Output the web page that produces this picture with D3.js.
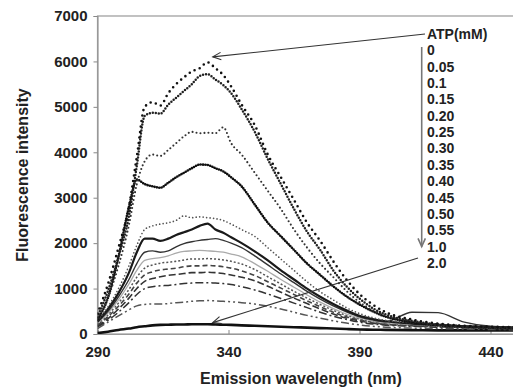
<!DOCTYPE html>
<html>
<head>
<meta charset="utf-8">
<script src="https://cdn.jsdelivr.net/npm/d3@7"></script>
<style>
    body { margin: 0; background: #fff; }
    svg { display: block; font-family: "Liberation Sans", Arial, sans-serif; }
    .axis text { font-weight: bold; fill: #222; }
</style>
</head>
<body>
<script>
// emission wavelengths (nm) sampled along every spectrum
const wavelengths = [290, 294, 298, 302, 305, 308, 311, 314, 317, 320, 323, 326, 329, 332, 335, 338, 341, 345,
    350, 355, 360, 365, 370, 375, 380, 385, 390, 395, 400, 410, 420, 430, 440, 450];

// fluorescence intensity, one array per ATP concentration
const atp0 = [450, 1100, 1900, 2800, 3900, 5000, 5100, 5030, 5300, 5500, 5650, 5780, 5850, 5980, 5850, 5700, 5450, 5050,
    4600, 3950, 3450, 2950, 2450, 2050, 1600, 1200, 880, 650, 480, 320, 230, 180, 160, 150];
const atp005 = [380, 950, 1700, 2600, 3700, 4800, 4870, 4850, 5050, 5200, 5350, 5500, 5680, 5720, 5600, 5480, 5300, 4950,
    4450, 3850, 3300, 2750, 2250, 1850, 1400, 1050, 780, 570, 430, 290, 210, 170, 150, 140];
const atp01 = [350, 800, 1500, 2400, 3300, 3800, 3950, 3920, 4050, 4200, 4350, 4450, 4420, 4430, 4420, 4550, 4200, 3950,
    3550, 3150, 2750, 2300, 1900, 1550, 1250, 950, 700, 520, 400, 280, 200, 160, 140, 130];
const atp015 = [320, 800, 1700, 2800, 3400, 3300, 3250, 3220, 3330, 3450, 3550, 3650, 3730, 3720, 3650, 3580, 3450, 3250,
    2850, 2450, 2150, 1850, 1550, 1300, 1050, 830, 650, 500, 380, 260, 190, 160, 140, 130];
const atp020 = [300, 600, 1000, 1500, 1950, 2300, 2380, 2420, 2450, 2500, 2600, 2560, 2580, 2560, 2540, 2500, 2420, 2300,
    2150, 1900, 1650, 1400, 1150, 930, 750, 580, 450, 360, 300, 250, 210, 180, 160, 150];
const atp025 = [280, 550, 900, 1350, 1800, 2100, 2100, 2050, 2100, 2180, 2240, 2300, 2380, 2430, 2300, 2230, 2130, 2000,
    1820, 1620, 1400, 1200, 1000, 820, 660, 520, 400, 330, 280, 230, 200, 170, 150, 140];
const atp030 = [260, 500, 820, 1200, 1550, 1800, 1830, 1800, 1830, 1920, 1990, 2030, 2060, 2080, 2100, 2060, 2000, 1900,
    1720, 1520, 1320, 1130, 940, 770, 620, 490, 380, 310, 270, 480, 470, 260, 170, 150];
const atp035 = [240, 460, 750, 1100, 1400, 1620, 1660, 1680, 1720, 1780, 1820, 1830, 1840, 1830, 1820, 1800, 1760, 1700,
    1550, 1380, 1200, 1030, 860, 700, 560, 440, 350, 290, 250, 210, 180, 155, 140, 130];
const atp040 = [220, 420, 680, 980, 1250, 1450, 1520, 1560, 1580, 1600, 1630, 1650, 1650, 1660, 1650, 1630, 1600, 1540,
    1420, 1260, 1100, 940, 790, 650, 520, 410, 330, 270, 230, 200, 170, 150, 135, 125];
const atp045 = [200, 380, 610, 880, 1120, 1300, 1370, 1410, 1430, 1450, 1480, 1500, 1500, 1510, 1500, 1480, 1450, 1390,
    1290, 1150, 1010, 870, 730, 600, 480, 380, 310, 255, 220, 190, 165, 145, 130, 120];
const atp050 = [180, 340, 550, 790, 1000, 1160, 1220, 1260, 1290, 1310, 1330, 1350, 1350, 1360, 1350, 1330, 1300, 1250,
    1170, 1050, 920, 790, 670, 550, 440, 350, 290, 240, 210, 180, 160, 140, 125, 115];
const atp055 = [160, 300, 480, 690, 870, 1000, 1040, 1060, 1070, 1090, 1110, 1120, 1130, 1130, 1120, 1110, 1090, 1040,
    970, 880, 780, 680, 580, 480, 390, 320, 260, 220, 195, 170, 150, 135, 120, 110];
const atp10 = [120, 260, 400, 530, 620, 650, 660, 660, 670, 690, 700, 720, 730, 735, 730, 720, 710, 690,
    660, 610, 550, 480, 410, 350, 290, 240, 200, 170, 150, 130, 120, 110, 100, 95];
const atp20 = [20, 50, 90, 120, 150, 170, 190, 200, 205, 210, 210, 215, 215, 215, 210, 205, 200, 190,
    180, 170, 160, 150, 140, 130, 120, 110, 100, 95, 90, 85, 80, 80, 80, 80];

const atpLabels = ["0", "0.05", "0.1", "0.15", "0.20", "0.25", "0.30", "0.35", "0.40", "0.45", "0.50", "0.55", "1.0", "2.0"];
const xTicks = [290, 340, 390, 440];
const yTicks = [0, 1000, 2000, 3000, 4000, 5000, 6000, 7000];

const seriesValues = [atp0, atp005, atp01, atp015, atp020, atp025, atp030, atp035, atp040, atp045, atp050, atp055, atp10, atp20];

// line look for each concentration, same order as atpLabels
const lineStyles = [
    {color: "#111", width: 2.6, dash: "0 5.5", cap: "round"},
    {color: "#222", width: 2.5, dash: "0 3", cap: "round"},
    {color: "#333", width: 2.1, dash: "0 4", cap: "round"},
    {color: "#111", width: 2.6, dash: "0 2.4", cap: "round"},
    {color: "#555", width: 1.7, dash: "0 3.5", cap: "round"},
    {color: "#1a1a1a", width: 2.2, dash: null, cap: "butt"},
    {color: "#333", width: 1.4, dash: null, cap: "butt"},
    {color: "#aaa", width: 1.3, dash: null, cap: "butt"},
    {color: "#555", width: 1.5, dash: "2 2", cap: "butt"},
    {color: "#444", width: 1.6, dash: "5 3", cap: "butt"},
    {color: "#333", width: 1.6, dash: "7 3", cap: "butt"},
    {color: "#333", width: 1.5, dash: "8 3 2 3", cap: "butt"},
    {color: "#555", width: 1.5, dash: "8 3 2 3 2 3", cap: "butt"},
    {color: "#111", width: 2.6, dash: null, cap: "butt"}
];

let svgWidth = 513, svgHeight = 389;
let plotLeft = 97.5, plotTop = 16, plotBottom = 334;

let x = d3.scaleLinear()
    .domain([290, 450])
    .range([plotLeft, plotLeft + 160 * 2.62]);

let y = d3.scaleLinear()
    .domain([0, 7000])
    .range([plotBottom, plotTop]);

let svg = d3.select("body").append("svg")
    .attr("width", svgWidth)
    .attr("height", svgHeight);

svg.append("defs").append("clipPath")
    .attr("id", "plot-clip")
    .append("rect")
    .attr("x", plotLeft)
    .attr("y", plotTop)
    .attr("width", x(450) - plotLeft)
    .attr("height", plotBottom - plotTop);

// plot frame
svg.append("rect")
    .attr("x", plotLeft)
    .attr("y", plotTop)
    .attr("width", x(450) - plotLeft)
    .attr("height", plotBottom - plotTop)
    .style("fill", "none")
    .style("stroke", "#999")
    .style("stroke-width", 1.2);

let yAxis = d3.axisLeft(y).tickValues(yTicks).tickFormat(d3.format("d")).tickSize(4).tickPadding(6);
let xAxis = d3.axisBottom(x).tickValues(xTicks).tickSize(-4);

let gy = svg.append("g")
    .attr("class", "axis")
    .attr("transform", "translate(" + plotLeft + ",0)")
    .call(yAxis);
gy.selectAll("text").style("font-size", "15px");

let gx = svg.append("g")
    .attr("class", "axis")
    .attr("transform", "translate(0," + plotBottom + ")")
    .call(xAxis);
gx.selectAll("text")
    .style("font-size", "15px")
    .attr("y", 23)
    .attr("dy", 0);

svg.selectAll(".axis path.domain").style("stroke", "#999").style("stroke-width", 1.2);
svg.selectAll(".axis .tick line").style("stroke", "#888");

svg.append("text")
    .attr("transform", "translate(27.5,175) rotate(-90)")
    .style("text-anchor", "middle")
    .style("font-weight", "bold")
    .style("font-size", "16px")
    .style("fill", "#222")
    .text("Fluorescence intensity");

svg.append("text")
    .attr("x", 301)
    .attr("y", 383.5)
    .style("text-anchor", "middle")
    .style("font-weight", "bold")
    .style("font-size", "16px")
    .style("fill", "#222")
    .text("Emission wavelength (nm)");

// spectra
let line = d3.line()
    .x(function (d) { return x(d[0]); })
    .y(function (d) { return y(d[1]); })
    .curve(d3.curveMonotoneX);

let spectra = svg.append("g").attr("clip-path", "url(#plot-clip)");

// draw from the highest concentration first so the dotted curves stay on top
for (let i = seriesValues.length - 1; i >= 0; i--) {
    let pts = wavelengths.map(function (w, j) { return [w, seriesValues[i][j]]; });
    let st = lineStyles[i];
    spectra.append("path")
        .datum(pts)
        .attr("d", line)
        .style("fill", "none")
        .style("stroke", st.color)
        .style("stroke-width", st.width)
        .style("stroke-linecap", st.cap)
        .style("stroke-dasharray", st.dash);
}

// legend
let legendX = 427, legendTop = 39, legendStep = 16.35;

svg.append("text")
    .attr("x", legendX)
    .attr("y", legendTop)
    .style("font-weight", "bold")
    .style("font-size", "14px")
    .style("fill", "#222")
    .text("ATP(mM)");

svg.selectAll(".legend")
    .data(atpLabels)
    .enter().append("text")
    .attr("class", "legend")
    .attr("x", legendX)
    .attr("y", function (d, i) { return legendTop + (i + 1) * legendStep; })
    .style("font-weight", "bold")
    .style("font-size", "14px")
    .style("fill", "#222")
    .text(function (d) { return d; });

// open arrowhead helper
function arrow(x1, y1, x2, y2, color, width) {
    let g = svg.append("g").style("stroke", color).style("stroke-width", width).style("fill", "none");
    g.append("line").attr("x1", x1).attr("y1", y1).attr("x2", x2).attr("y2", y2);
    let a = Math.atan2(y1 - y2, x1 - x2), len = 9, spread = 0.42;
    g.append("path")
        .attr("d", "M" + (x2 + len * Math.cos(a + spread)) + "," + (y2 + len * Math.sin(a + spread)) +
            "L" + x2 + "," + y2 +
            "L" + (x2 + len * Math.cos(a - spread)) + "," + (y2 + len * Math.sin(a - spread)));
}

// vertical arrow along the legend, grey
arrow(421.7, legendTop + 8, 421.7, legendTop + 12.7 * legendStep, "#777", 1.6);
// ATP(mM) label -> top spectrum, 2.0 label -> bottom spectrum
arrow(legendX - 2, legendTop - 5, x(334), y(6100), "#333", 1.1);
arrow(legendX - 9, legendTop + 14 * legendStep - 10, x(334), y(250), "#333", 1.1);
</script>
</body>
</html>
